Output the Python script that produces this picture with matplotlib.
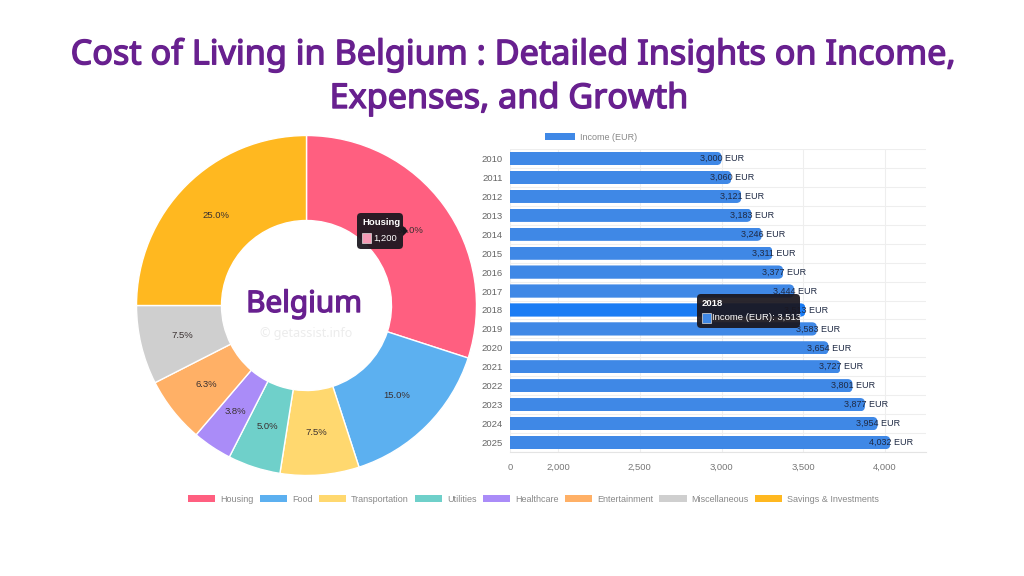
import matplotlib
matplotlib.use("Agg")
import matplotlib.pyplot as plt
import matplotlib.patheffects as pe
from matplotlib.patches import FancyBboxPatch, Patch, Polygon, Rectangle

W, H = 1024, 576

# Budget shares
categories = ["Housing", "Food", "Transportation", "Utilities", "Healthcare",
              "Entertainment", "Miscellaneous", "Savings & Investments"]
expenses = [1200, 600, 300, 200, 150, 250, 300, 1000]
pie_colors = ["#ff5f80", "#5cb0f0", "#ffd86f", "#6fd0ca", "#aa8cf8", "#ffb066", "#cfcfcf", "#ffb820"]

# Monthly income
years = ["2010", "2011", "2012", "2013", "2014", "2015", "2016", "2017",
         "2018", "2019", "2020", "2021", "2022", "2023", "2024", "2025"]
income = [3000, 3060, 3121, 3183, 3246, 3311, 3377, 3444,
          3513, 3583, 3654, 3727, 3801, 3877, 3954, 4032]
x_ticks = [1707, 2000, 2500, 3000, 3500, 4000]
x_tick_labels = ["0", "2,000", "2,500", "3,000", "3,500", "4,000"]

PURPLE = "#68208f"
BAR = "#3f88e6"
BAR_HI = "#1a7cf4"
UI_FONT = "Liberation Sans"
TITLE_FONT = "Noto Sans"
# the installed Noto Sans has no bold weight, so thicken it with a stroke
HEAVY = [pe.withStroke(linewidth=1.0, foreground=PURPLE)]


def px_axes(fig, left, top, right, bottom):
    # axes placed by reference pixel box
    return fig.add_axes([left / W, 1 - bottom / H, (right - left) / W, (bottom - top) / H])


def fx(x):
    return x / W


def fy(y):
    return 1 - y / H


def tooltip(fig, left, top, right, bottom, title, body, swatch, title_y, body_y, body_x):
    fig.add_artist(FancyBboxPatch((left, H - bottom), right - left, bottom - top,
                                  boxstyle="round,pad=0,rounding_size=4",
                                  transform=None, fc="#1a161e", ec="none", alpha=0.93, zorder=10))
    fig.text(fx(left + 5), fy(title_y), title, color="white", fontsize=6.8, fontweight="bold",
             family=UI_FONT, va="center", zorder=11)
    fig.add_artist(Rectangle((left + 5, H - body_y - 5), 9, 10, transform=None,
                             fc=swatch, ec="#dddddd", lw=0.5, zorder=11))
    fig.text(fx(body_x), fy(body_y), body, color="white", fontsize=6.8,
             family=UI_FONT, va="center", zorder=11)


fig = plt.figure(figsize=(W / 100, H / 100), dpi=100, facecolor="white")

fig.text(fx(513), fy(51), "Cost of Living in Belgium : Detailed Insights on Income,",
         ha="center", va="center_baseline", color=PURPLE, fontsize=24.6, family=TITLE_FONT,
         path_effects=HEAVY)
fig.text(fx(509), fy(95), "Expenses, and Growth",
         ha="center", va="center_baseline", color=PURPLE, fontsize=24.6, family=TITLE_FONT,
         path_effects=HEAVY)

# Donut
ax_pie = px_axes(fig, 136, 135, 477, 476)
wedges, _, pct_texts = ax_pie.pie(
    expenses, colors=pie_colors, startangle=90, counterclock=False, radius=1,
    autopct=lambda p: f"{p + 0.001:.1f}%", pctdistance=0.75,
    wedgeprops={"width": 0.5, "edgecolor": "white", "linewidth": 1},
    textprops={"fontsize": 6.8, "family": UI_FONT, "color": "#3a3030"})
ax_pie.set_xlim(-1.003, 1.003)
ax_pie.set_ylim(-1.003, 1.003)
fig.text(fx(304), fy(301), "Belgium", ha="center", va="center_baseline", color=PURPLE,
         fontsize=21.4, family=TITLE_FONT, path_effects=HEAVY)
fig.text(fx(306), fy(334), "© getassist.info", ha="center", va="center", color="#ececec",
         fontsize=9, family=TITLE_FONT)
tooltip(fig, 357, 213, 403, 249, "Housing", "1,200", "#f59ab5", 222, 238, 373)
fig.add_artist(Polygon([(403, H - 226), (408, H - 231), (403, H - 236)], closed=True,
                       transform=None, fc="#1a161e", ec="none", zorder=10))

# Income bars
ax_bar = px_axes(fig, 510, 149, 926, 452)
bar_colors = [BAR_HI if y == "2018" else BAR for y in years]
positions = list(range(len(years)))
bars = ax_bar.barh(positions, income, left=0, height=0.7, color=bar_colors, zorder=2)
ax_bar.set_xlim(1707, 4250)
ax_bar.set_ylim(15.5, -0.5)
for bar in bars:
    # only the right end shows rounded, the left runs past the axis
    clip = FancyBboxPatch((bar.get_x(), bar.get_y()), bar.get_width(), bar.get_height(),
                          boxstyle="round,pad=0,rounding_size=30", mutation_aspect=0.0092,
                          transform=ax_bar.transData)
    bar.set_clip_path(clip)
for pos, value in zip(positions, income):
    ax_bar.text(value + 6, pos, f"{value:,} EUR", ha="center", va="center", fontsize=6.5,
                family=UI_FONT, color="#1f2a44", zorder=3)
ax_bar.set_xticks(x_ticks)
ax_bar.set_xticklabels(x_tick_labels, fontsize=6.8, family=UI_FONT, color="#777777")
ax_bar.set_yticks(positions)
ax_bar.set_yticklabels(years, fontsize=6.8, family=UI_FONT, color="#666666")
ax_bar.set_yticks([p - 0.5 for p in positions] + [15.5], minor=True)
ax_bar.grid(True, axis="x", color="#eeeeee", lw=0.8, zorder=0)
ax_bar.grid(True, axis="y", which="minor", color="#eeeeee", lw=0.8, zorder=0)
ax_bar.tick_params(axis="both", which="both", length=0)
ax_bar.tick_params(axis="y", pad=5)
ax_bar.tick_params(axis="x", pad=8)
for side in ["top", "right", "left"]:
    ax_bar.spines[side].set_visible(False)
ax_bar.spines["bottom"].set_color("#e4e4e4")
tooltip(fig, 697, 294, 800, 328, "2018", "Income (EUR): 3,513", BAR, 303, 318, 712)

# Legends
fig.legend(handles=[Patch(fc=BAR, label="Income (EUR)")], loc="center left",
           bbox_to_anchor=(fx(537), fy(137)), frameon=False, handlelength=3.3, handleheight=0.9,
           handletextpad=0.55, prop={"family": UI_FONT, "size": 6.5}, labelcolor="#888888")
fig.legend(handles=[Patch(fc=c, label=n) for c, n in zip(pie_colors, categories)],
           loc="center", bbox_to_anchor=(fx(533.5), fy(499)), ncol=8, frameon=False,
           handlelength=3.0, handleheight=0.8, handletextpad=0.55, columnspacing=0.71,
           prop={"family": UI_FONT, "size": 6.5}, labelcolor="#888888")

fig.savefig("out.png", dpi=100)
